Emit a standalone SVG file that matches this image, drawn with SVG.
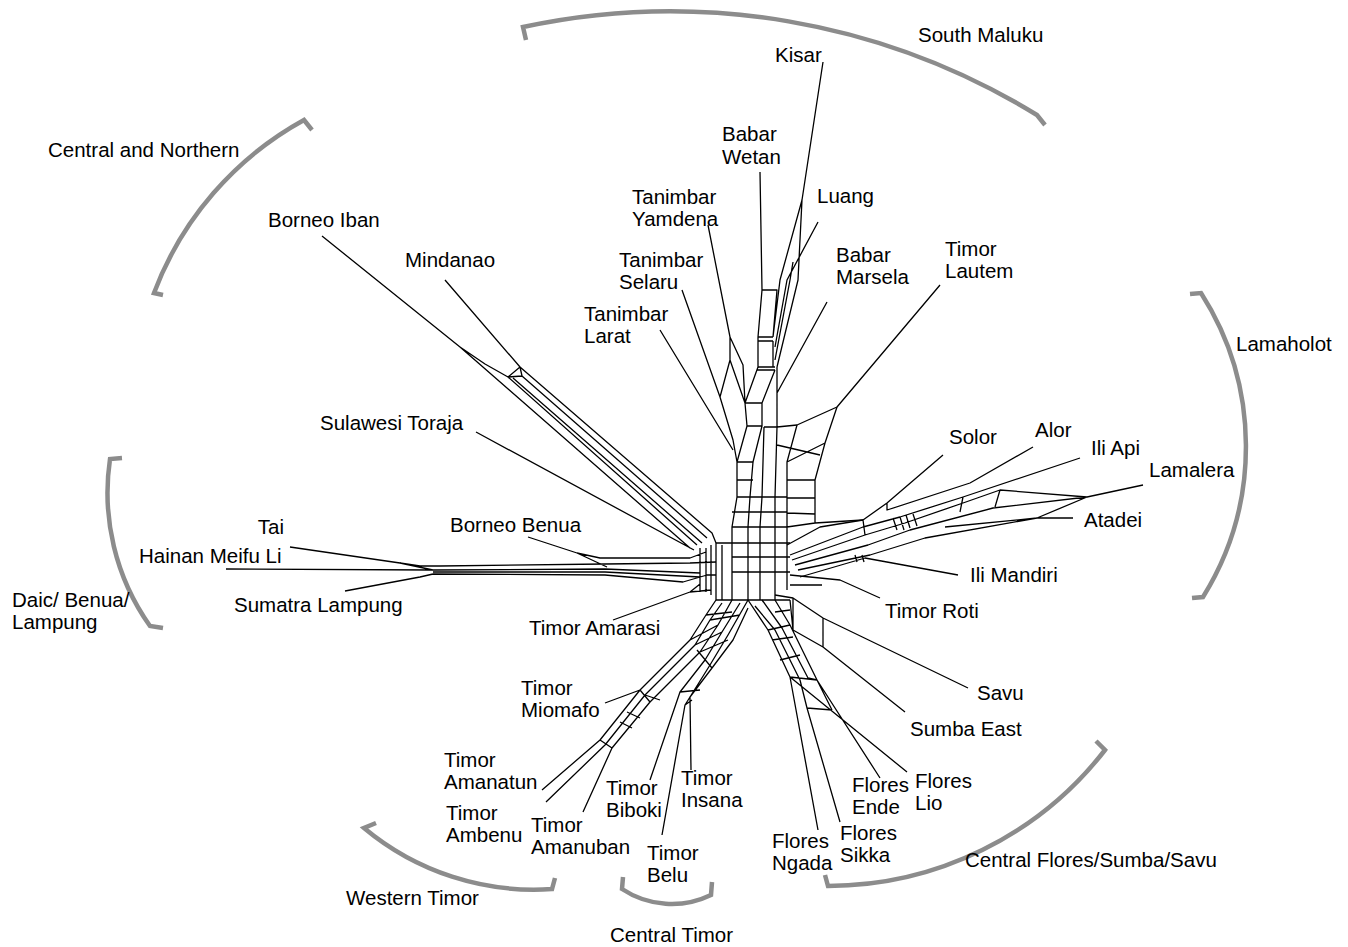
<svg xmlns="http://www.w3.org/2000/svg" width="1348" height="947" viewBox="0 0 1348 947">
<style>
text{font-family:"Liberation Sans",Arial,sans-serif;font-size:20.5px;fill:#000}
.net{fill:none;stroke:#000;stroke-width:1.3;stroke-linejoin:round}
.br{fill:none;stroke:#8c8c8c;stroke-width:4.5;stroke-linecap:butt}
</style>
<rect width="1348" height="947" fill="#fff"/>
<g id="brackets">
<g id="br-south-maluku"><path class="br" d="M526 40 L523 27 A700 700 0 0 1 1037 115 L1045 125"/></g>
<g id="br-central-northern"><path class="br" d="M312 130 L304 120 A330 330 0 0 0 154 293 L163 295"/></g>
<g id="br-lamaholot"><path class="br" d="M1190 294 L1201 293 A285 285 0 0 1 1203 597 L1192 598"/></g>
<g id="br-daic"><path class="br" d="M122 458 L110 459 A230 230 0 0 0 150 626 L163 628"/></g>
<g id="br-central-flores"><path class="br" d="M1096 741 L1105 750 A351 351 0 0 1 828 886 L825 875"/></g>
<g id="br-western-timor"><path class="br" d="M376 823 L364 828 A265 265 0 0 0 552 889 L555 878"/></g>
<g id="br-central-timor"><path class="br" d="M623 877 L622 889 A90 90 0 0 0 711 895 L712 882"/></g>
</g>
<g id="connectors">
<path class="net" d="
M823 62 L802 200 L780 280 L773 337
M802 200 L798 280 L777 367
M818 222 L787 280 L775 347
M793 262 L790 280 L775 360
M760 172 L762 290
M762 290 L777 290 L773 337
M762 290 L758 337
M758 337 L773 337 M758 341 L773 341
M758 337 L758 367 M773 341 L773 367
M758 367 L775 367 M757 370 L775 370
M758 367 L745 403
M775 370 L762 403
M777 367 L777 427
M745 403 L762 403 L762 426 L747 426 Z
M827 302 L777 393
M747 426 L737 462
M762 426 L753 462
M764 427 L777 427 L797 425 L837 407
M940 285 L837 407
M708 225 L730 337 L730 360 L720 397 L733 440 L737 462
M730 360 L745 403
M730 337 L743 365 L745 403
M682 290 L720 397
M660 330 L733 450
"/>
<path class="net" d="
M737 462 L753 462
M737 462 L737 497 L732 527 L732 600
M753 462 L750 497 L748 527 L748 600
M764 427 L762 497 L760 527 L760 600
M777 427 L775 497 L775 527 L775 600
M797 425 L787 462 L787 497 L787 590
M737 480 L753 480
M737 497 L787 497
M732 512 L787 512
M732 527 L787 527
M732 543 L790 543
M732 557 L790 557
M732 572 L790 572
M716 600 L790 600
M716 543 L716 600 M722 545 L722 600 M732 543 L716 543
M837 407 L825 443 L815 480 L815 523 L863 520
M787 462 L825 443
M777 445 L820 455
M787 480 L815 480
M787 498 L815 498
M787 513 L815 514
M787 527 L815 523
"/>
<path class="net" d="
M226 569 L433 570 L605 569 L700 573
M290 547 L400 563 L420 566 L440 566
M345 591 L420 577 L433 574
M400 563 L433 570
M440 566 L605 564 L690 563 L716 562
M433 574 L605 575 L683 582 L707 575 L716 575
M433 572 L605 572 L700 577
M528 537 L577 553 L607 567
M577 553 L600 558 L690 558 L706 552
M700 548 L700 592 M706 548 L706 592 M711 545 L711 595
M322 236 L460 347 L690 548
M460 347 L485 364 L508 377 L697 545
M513 378 L702 543
M508 377 L520 367 L522 376 L508 377
M522 376 L707 538
M445 280 L520 367 L712 533 L716 543
M476 432 L694 550
M613 620 L690 592 L711 590
M690 592 L700 584
"/>
<path class="net" d="
M716 600 L706 615 L690 640 L640 690 L600 740 L542 790
M722 603 L710 620 L695 645 L645 695 L605 745 L546 802
M732 600 L718 625 L700 652 L650 702 L612 748 L583 812
M740 603 L722 632 L705 660 L680 692 L650 780
M748 600 L728 635 L710 665 L685 705 L662 835
M748 608 L733 640 L712 668 L697 650
M712 668 L690 697 L691 770
M605 703 L640 690
M706 615 L732 612 M710 620 L740 615 M690 640 L718 625 M695 645 L722 632
M700 652 L728 640 M640 690 L650 702 M645 695 L660 700 M600 740 L612 748
M680 692 L700 690 M685 705 L692 700 M627 712 L640 718 M620 722 L632 728
"/>
<path class="net" d="
M748 600 L768 630 L790 677 L818 830
M755 606 L775 630 L800 680 L807 708 L840 822
M762 600 L782 628 L808 678 L817 680 L880 778
M775 600 L790 625 L817 680 L832 710
M790 677 L817 680 M807 708 L832 710
M768 630 L790 625 M775 612 L790 610 M772 640 L793 637 M780 660 L800 655
M790 677 L907 772
M775 595 L793 598 L823 618 L968 688
M790 600 L793 630 L823 647 L905 712
M793 598 L793 630 M823 618 L823 647
M790 575 L840 580 L880 598
M790 585 L822 585
"/>
<path class="net" d="
M787 545 L820 527 L863 520 L887 503 L943 455
M887 503 L887 510 L970 483 L1033 447
M790 555 L863 527 L900 517 L963 497 L1080 458
M792 560 L865 535 L905 523 L963 503 L1000 490 L1087 497 L1143 485
M795 565 L868 545 L910 530 L993 508 L1087 497
M798 570 L870 555 L925 538 L1037 518 L1073 518
M945 527 L1037 518 L1087 497
M800 577 L865 558 L958 575
M893 518 L897 530 M900 517 L904 530 M906 515 L910 528 M913 514 L917 526
M855 555 L857 562 M862 555 L864 562
M963 497 L960 512 M1000 490 L995 507
M863 520 L865 535
"/>
</g>
<g id="labels">
<g id="lbl-south-maluku"><text x="918" y="42">South Maluku</text></g>
<g id="n-kisar"><text x="775" y="62">Kisar</text></g>
<g id="n-babar-wetan"><text x="722" y="141">Babar</text><text x="722" y="164">Wetan</text></g>
<g id="n-luang"><text x="817" y="203">Luang</text></g>
<g id="n-tanimbar-yamdena"><text x="632" y="204">Tanimbar</text><text x="632" y="226">Yamdena</text></g>
<g id="lbl-central-northern"><text x="48" y="157">Central and Northern</text></g>
<g id="n-borneo-iban"><text x="268" y="227">Borneo Iban</text></g>
<g id="n-tanimbar-selaru"><text x="619" y="267">Tanimbar</text><text x="619" y="289">Selaru</text></g>
<g id="n-mindanao"><text x="405" y="267">Mindanao</text></g>
<g id="n-babar-marsela"><text x="836" y="262">Babar</text><text x="836" y="284">Marsela</text></g>
<g id="n-timor-lautem"><text x="945" y="256">Timor</text><text x="945" y="278">Lautem</text></g>
<g id="n-tanimbar-larat"><text x="584" y="321">Tanimbar</text><text x="584" y="343">Larat</text></g>
<g id="lbl-lamaholot"><text x="1236" y="351">Lamaholot</text></g>
<g id="n-sulawesi-toraja"><text x="320" y="430">Sulawesi Toraja</text></g>
<g id="n-solor"><text x="949" y="444">Solor</text></g>
<g id="n-alor"><text x="1035" y="437">Alor</text></g>
<g id="n-ili-api"><text x="1091" y="455">Ili Api</text></g>
<g id="n-lamalera"><text x="1149" y="477">Lamalera</text></g>
<g id="n-atadei"><text x="1084" y="527">Atadei</text></g>
<g id="n-tai"><text x="284" y="534" text-anchor="end">Tai</text></g>
<g id="n-borneo-benua"><text x="450" y="532">Borneo Benua</text></g>
<g id="n-hainan"><text x="139" y="563">Hainan Meifu Li</text></g>
<g id="n-ili-mandiri"><text x="970" y="582">Ili Mandiri</text></g>
<g id="lbl-daic"><text x="12" y="607">Daic/ Benua/</text><text x="12" y="629">Lampung</text></g>
<g id="n-sumatra-lampung"><text x="234" y="612">Sumatra Lampung</text></g>
<g id="n-timor-roti"><text x="885" y="618">Timor Roti</text></g>
<g id="n-timor-amarasi"><text x="529" y="635">Timor Amarasi</text></g>
<g id="n-timor-miomafo"><text x="521" y="695">Timor</text><text x="521" y="717">Miomafo</text></g>
<g id="n-savu"><text x="977" y="700">Savu</text></g>
<g id="n-sumba-east"><text x="910" y="736">Sumba East</text></g>
<g id="n-timor-amanatun"><text x="444" y="767">Timor</text><text x="444" y="789">Amanatun</text></g>
<g id="n-timor-insana"><text x="681" y="785">Timor</text><text x="681" y="807">Insana</text></g>
<g id="n-flores-lio"><text x="915" y="788">Flores</text><text x="915" y="810">Lio</text></g>
<g id="n-flores-ende"><text x="852" y="792">Flores</text><text x="852" y="814">Ende</text></g>
<g id="n-timor-biboki"><text x="606" y="795">Timor</text><text x="606" y="817">Biboki</text></g>
<g id="n-timor-ambenu"><text x="446" y="820">Timor</text><text x="446" y="842">Ambenu</text></g>
<g id="n-timor-amanuban"><text x="531" y="832">Timor</text><text x="531" y="854">Amanuban</text></g>
<g id="n-flores-ngada"><text x="772" y="848">Flores</text><text x="772" y="870">Ngada</text></g>
<g id="n-flores-sikka"><text x="840" y="840">Flores</text><text x="840" y="862">Sikka</text></g>
<g id="n-timor-belu"><text x="647" y="860">Timor</text><text x="647" y="882">Belu</text></g>
<g id="lbl-central-flores"><text x="965" y="867">Central Flores/Sumba/Savu</text></g>
<g id="lbl-western-timor"><text x="346" y="905">Western Timor</text></g>
<g id="lbl-central-timor"><text x="610" y="942">Central Timor</text></g>
</g>
</svg>
